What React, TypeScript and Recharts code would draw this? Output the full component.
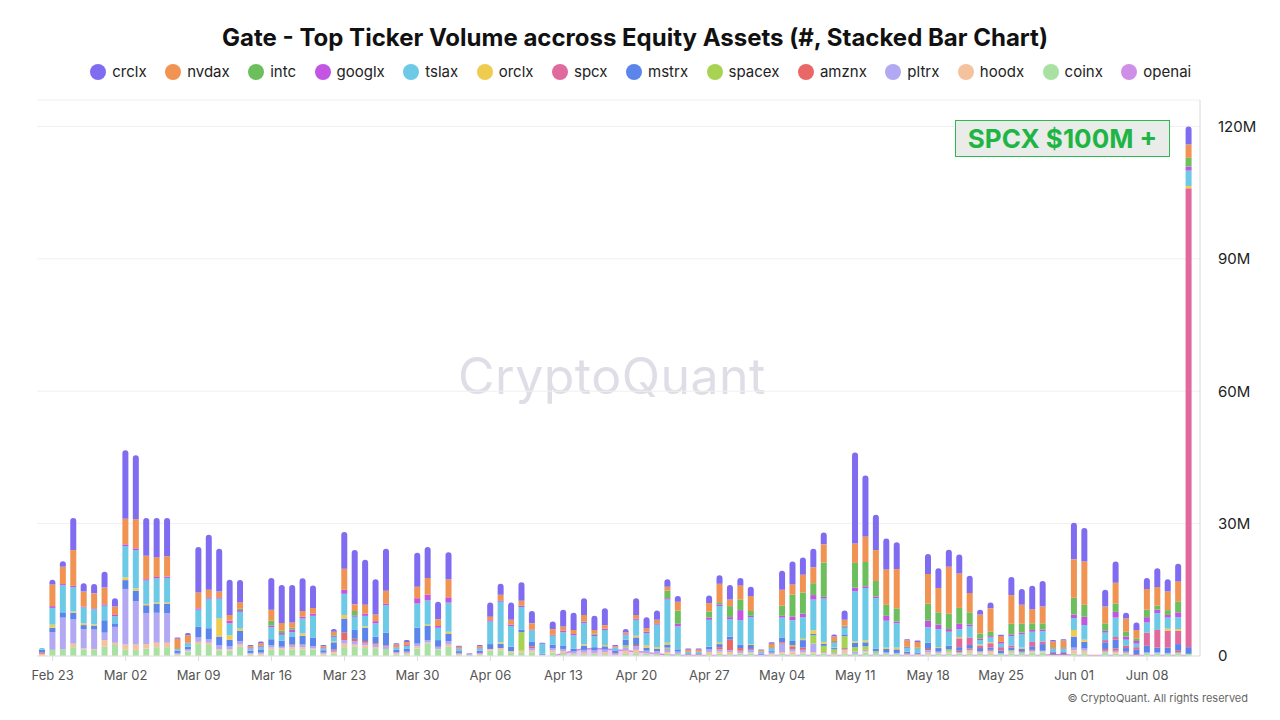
import React from 'react'
import { ComposedChart, Bar, Area, XAxis, YAxis, CartesianGrid } from 'recharts'

// daily categories, Feb 22 .. Jun 12
const MONTHS = ['Jan', 'Feb', 'Mar', 'Apr', 'May', 'Jun', 'Jul', 'Aug', 'Sep', 'Oct', 'Nov', 'Dec']
const days = Array.from({ length: 111 }, (_, i) => {
  const d = new Date(Date.UTC(2025, 1, 22 + i))
  return `${MONTHS[d.getUTCMonth()]} ${String(d.getUTCDate()).padStart(2, '0')}`
})

const tickLabels = ['Feb 23', 'Mar 02', 'Mar 09', 'Mar 16', 'Mar 23', 'Mar 30', 'Apr 06', 'Apr 13', 'Apr 20', 'Apr 27', 'May 04', 'May 11', 'May 18', 'May 25', 'Jun 01', 'Jun 08']
const yTicks = [0, 30, 60, 90, 120]

// volumes in millions
const crclx = [
  0, 1.1, 1.3, 7.3, 1.9, 2.1, 3.6, 1.9, 15.5, 14.5,
  8.6, 8.9, 8.7, 0.3, 0.5, 10.3, 12.5, 9.7, 8.0, 5.0,
  0.3, 0.4, 7.2, 8.6, 8.5, 7.4, 5.1, 0.3, 0.6, 8.3,
  12.3, 10.2, 8.0, 9.5, 0.3, 0.4, 7.7, 7.0, 4.0, 6.1,
  0.2, 0.1, 0.3, 3.2, 2.5, 3.9, 4.2, 2.8, 0.2, 1.7,
  3.8, 3.9, 3.8, 3.2, 3.8, 0.3, 0.8, 3.8, 2.5, 2.1,
  1.7, 1.3, 0.2, 0.2, 1.7, 1.9, 3.3, 1.7, 2.1, 0.2,
  0.3, 4.3, 5.2, 3.9, 4.2, 2.7, 0.5, 2.1, 20.6, 13.8,
  8.0, 7.0, 6.1, 0.3, 0.3, 4.5, 4.5, 3.9, 4.3, 3.9,
  1.1, 1.3, 0.3, 4.1, 3.6, 5.3, 5.8, 0.3, 0.3, 8.3,
  7.6, 0, 3.8, 4.8, 1.3, 1.7, 2.5, 4.3, 2.8, 4.0, 4.1,
]
const nvdax = [
  0, 4.9, 3.9, 8.1, 3.4, 3.4, 3.8, 1.9, 5.8, 6.6,
  5.3, 4.5, 4.6, 2.3, 1.7, 3.6, 1.7, 1.3, 1.3, 1.5,
  0.4, 0.6, 2.5, 1.7, 1.2, 1.3, 1.3, 0.4, 0.8, 4.8,
  1.5, 2.0, 1.5, 2.9, 0.6, 0.7, 2.6, 3.8, 1.5, 4.1,
  0.4, 0.1, 0.4, 0.8, 1.3, 1.1, 1.1, 1.4, 0.1, 1.3,
  1.0, 0.9, 1.5, 0.8, 0.8, 0.3, 0.4, 0.8, 0.8, 0.8,
  0.9, 2.0, 0.5, 0.5, 1.9, 4.2, 1.5, 3.2, 3.4, 0.3,
  0.8, 3.6, 2.3, 4.0, 3.6, 4.1, 1.0, 1.3, 4.4, 5.8,
  7.0, 8.0, 8.9, 1.3, 1.3, 6.7, 5.5, 10.6, 7.8, 4.4,
  4.3, 5.3, 1.3, 6.5, 4.3, 3.2, 3.8, 1.3, 1.5, 8.7,
  9.8, 0.2, 3.8, 4.7, 3.0, 1.9, 4.7, 4.2, 4.2, 4.5, 3.0,
]
const intc = [
  0, 0, 0, 0, 0, 0, 0, 0, 0, 0,
  0, 0, 0, 0, 0, 0, 0, 0, 0, 0.3,
  0, 0, 1.1, 0.6, 0.4, 0, 0, 0, 0.2, 0,
  1.0, 0, 0, 0, 0, 0, 0, 0, 0, 0,
  0, 0, 0, 0, 0, 0, 0, 0, 0, 0,
  0, 0, 0, 0.3, 0, 0, 0, 0, 0, 0,
  1.7, 3.0, 0, 0, 1.4, 0.5, 2.5, 2.4, 1.1, 0.1,
  0.2, 2.3, 5.0, 4.8, 2.7, 7.8, 0.3, 0.3, 5.6, 5.5,
  3.5, 2.5, 3.0, 0.2, 0.2, 3.9, 2.8, 3.5, 3.6, 2.8,
  1.2, 1.0, 0, 2.4, 2.0, 1.5, 1.4, 0.3, 0.3, 3.8,
  2.7, 0, 1.7, 1.9, 1.1, 0.6, 1.7, 0.9, 1.1, 2.5, 2.0,
]
const googlx = [
  0, 0.4, 0.3, 0.3, 0.2, 0.2, 0.3, 0.3, 0.4, 0.4,
  0.3, 0.3, 0.3, 0, 0.1, 0.3, 0.3, 0.3, 0.6, 0.4,
  0.1, 0.2, 0.4, 0.4, 0.6, 0.4, 0.5, 0.1, 0.2, 0.9,
  0.3, 0.5, 0.5, 0.4, 0.1, 0.2, 1.2, 1.3, 0.4, 1.2,
  0.1, 0, 0.1, 0.3, 0.3, 0.3, 0.3, 0.2, 0, 0.2,
  0.3, 0.3, 0.3, 0.3, 0.3, 0.1, 0.2, 0.3, 0.3, 0.3,
  0.3, 0.6, 0.1, 0.1, 0.5, 0.4, 0.5, 2.3, 0.3, 0.1,
  0.1, 0.4, 0.8, 0.8, 1.0, 0.4, 0.2, 0.2, 0.8, 0.4,
  0.4, 1.1, 0.4, 0.2, 0.1, 1.5, 1.0, 0.6, 1.2, 0.4,
  0.3, 0.3, 0.4, 0.4, 0.4, 0.4, 0.4, 0.2, 0.2, 0.8,
  1.9, 0, 0.4, 1.3, 0.7, 0.6, 1.2, 0.8, 0.6, 1.1, 0.9,
]
const tslax = [
  0.4, 3.8, 6.1, 5.5, 3.6, 3.4, 3.3, 1.6, 7.1, 8.7,
  5.3, 5.5, 5.6, 0.4, 0.8, 3.9, 6.7, 4.5, 2.7, 3.8,
  0.5, 0.6, 2.7, 1.3, 1.1, 3.4, 4.9, 0.4, 1.0, 4.8,
  3.0, 2.4, 3.0, 6.2, 0.5, 0.7, 5.5, 5.5, 2.8, 6.6,
  0.5, 0.1, 0.5, 5.1, 9.2, 4.7, 5.1, 2.5, 2.2, 2.0,
  3.0, 3.0, 4.9, 2.5, 3.4, 0.6, 1.0, 3.6, 2.8, 5.1,
  9.8, 5.2, 0.3, 0.3, 6.1, 8.3, 3.9, 5.5, 6.1, 0.3,
  0.6, 4.5, 4.7, 4.9, 7.0, 9.8, 1.0, 1.5, 11.4, 11.9,
  11.4, 6.1, 5.5, 0.8, 0.8, 3.5, 4.1, 3.2, 1.8, 2.5,
  1.0, 1.1, 0.8, 2.1, 3.0, 2.3, 2.3, 0.6, 0.6, 2.7,
  3.3, 0, 1.7, 4.4, 1.4, 0.8, 2.3, 3.8, 2.5, 2.7, 3.5,
]
const orclx = [
  0, 0.7, 0, 0.3, 0.4, 0.3, 0, 0, 0.6, 0.5,
  0.3, 0.3, 0.3, 0, 0, 0, 0, 4.1, 1.0, 0.5,
  0, 0, 0, 0, 0, 0.5, 0, 0, 0.2, 0.8,
  0, 0.3, 0, 0, 0, 0, 0, 0.3, 0, 0.4,
  0, 0, 0, 0, 0.3, 0, 0, 0, 0, 0,
  0, 0, 0.3, 0, 0.3, 0, 0, 0.4, 0.5, 0.4,
  0.4, 0, 0, 0, 0, 0.3, 0, 0, 0.2, 0,
  0, 0, 0, 0.3, 0.8, 0.4, 0.1, 0, 0.3, 0.4,
  0, 0.3, 0.4, 0, 0, 0, 0.2, 0, 0.3, 0,
  0.2, 0.2, 0, 0, 0.2, 0, 0, 0, 0, 1.5,
  0.5, 0, 0, 0, 0, 0, 0, 0, 0.5, 0.4, 0.5,
]
const spcx = [
  0, 0, 0, 0, 0, 0, 0, 0, 0, 0,
  0, 0, 0, 0, 0, 0, 0, 0, 0, 0,
  0, 0, 0, 0, 0, 0, 0, 0, 0, 0,
  0, 0, 0, 0, 0, 0, 0, 0, 0, 0,
  0, 0, 0, 0, 0, 0, 0, 0, 0, 0,
  0, 0, 0, 0, 0, 0, 0, 0, 0, 0,
  0, 0, 0, 0, 0, 0, 0, 0, 0, 0,
  0, 0, 0, 0, 0, 0, 0, 0, 0, 0,
  0, 0, 0, 0, 0, 0, 0, 0, 2.0, 1.7,
  0.6, 1.0, 0.8, 0.5, 0, 1.0, 0.6, 0.2, 0.2, 0,
  0, 0, 0.5, 0.6, 0.5, 0.6, 3.0, 4.0, 3.8, 3.0, 104.0,
]
const mstrx = [
  0.6, 1.0, 1.2, 1.5, 0.9, 0.9, 2.8, 0.8, 2.0, 2.4,
  1.8, 2.0, 2.1, 0.5, 0.6, 2.4, 2.5, 2.0, 1.5, 2.3,
  0.5, 0.7, 1.4, 1.4, 1.7, 2.0, 2.0, 0.5, 1.6, 3.2,
  2.0, 3.0, 1.5, 2.9, 0.5, 0.6, 3.6, 3.2, 1.5, 1.7,
  0.4, 0.1, 0.5, 1.1, 1.0, 1.0, 0.6, 1.1, 0.2, 0.8,
  0.8, 0.6, 0.9, 0.7, 0.7, 0.5, 1.3, 1.7, 0.7, 0.5,
  0.7, 0.5, 0.2, 0.2, 0.6, 0.7, 0.7, 0.8, 0.9, 0.2,
  0.3, 1.1, 0.9, 1.7, 0.3, 0.5, 0.3, 0.4, 1.0, 0.9,
  0.6, 0.8, 0.8, 0.4, 0.3, 1.4, 0.8, 0.8, 0.8, 0.8,
  0.7, 0.5, 0.6, 0.6, 0.6, 0.8, 1.5, 0.3, 0.3, 2.5,
  1.5, 0, 1.5, 2.0, 0.8, 1.0, 1.5, 1.1, 1.2, 1.5, 1.5,
]
const spacex = [
  0, 0, 0, 0, 0, 0, 0, 0, 0, 0,
  0, 0, 0, 0, 0, 0, 0, 0, 0, 0,
  0, 0, 0, 0, 0, 0, 0, 0, 0, 0,
  0, 0, 0, 0, 0, 0, 0, 0, 0, 0,
  0, 0, 0, 0, 0, 0, 4.2, 0, 0, 0,
  0, 0, 0, 0, 0, 0, 0.4, 0, 0, 0,
  0.3, 0, 0, 0, 0, 0, 0, 0, 0, 0,
  0, 0, 0.3, 0, 1.9, 1.4, 0.8, 2.7, 1.0, 0.8,
  0.2, 0, 0, 0, 0, 0, 0, 0.5, 0, 0,
  0, 0, 0, 0.3, 0, 0, 0, 0, 0, 0,
  0, 0, 0, 0, 0, 0, 0, 0, 0, 0, 0,
]
const amznx = [
  0.3, 0, 0, 0, 0, 0, 0, 0, 0, 0,
  0, 0, 0, 0, 0, 0, 0, 0, 0, 0,
  0, 0.1, 0, 0, 0.2, 0, 0, 0.1, 0.3, 1.7,
  0.5, 0.4, 0.3, 0.2, 0.1, 0.2, 0, 0, 0, 0,
  0.1, 0, 0.1, 0, 0, 0, 0, 0.4, 0, 0,
  0, 0, 0, 0, 0, 0.1, 0, 0.3, 0, 0,
  0, 0, 0.1, 0.1, 0, 0.5, 2.4, 0.6, 0.2, 0,
  0.1, 0.3, 0.6, 0.5, 0, 0, 0, 0.2, 0, 0,
  0, 0, 0, 0.2, 0.1, 0.3, 0, 0, 0.3, 0.3,
  0.1, 0.2, 0, 0, 0.2, 0.2, 0, 0.1, 0.1, 0,
  0, 0, 0.4, 0.5, 0.2, 0.2, 0, 0, 0, 0.4, 0,
]
const pltrx = [
  0, 4.0, 7.2, 5.5, 4.4, 4.4, 1.7, 3.6, 12.6, 9.8,
  7.0, 6.8, 6.7, 0.3, 0.3, 1.0, 0.8, 0.8, 0.7, 0.8,
  0.2, 0.2, 0.5, 0.3, 0.4, 0.6, 0.5, 0.2, 0.3, 0.8,
  0.8, 0.6, 0.6, 0.6, 0.2, 0.2, 0.6, 0.5, 0.5, 0.8,
  0.2, 0.1, 0.2, 0, 0, 0, 0, 0.5, 0.1, 0.5,
  0.5, 0.5, 0.6, 0.6, 0.6, 0.3, 0.7, 0.8, 0.5, 0.5,
  0.7, 0.5, 0.1, 0.1, 0.6, 0.5, 0.4, 0.5, 0.6, 0.1,
  0.2, 1.9, 0.6, 0.6, 1.9, 0.2, 0.2, 0.3, 0.5, 0.3,
  0.2, 0.2, 0.2, 0.1, 0.1, 0.5, 0.3, 0.2, 0.2, 0.2,
  0.2, 0.2, 0, 0.2, 0.2, 0.2, 0.2, 0.1, 0.1, 0.6,
  0.5, 0, 0.4, 0.3, 0.2, 0.1, 0.2, 0.2, 0.2, 0.2, 0,
]
const hoodx = [
  0.5, 0, 0, 0.8, 0.2, 0.2, 1.5, 0.5, 1.1, 1.2,
  1.0, 1.0, 1.0, 0.2, 0.2, 0.5, 0.5, 0.3, 0.3, 0.5,
  0.2, 0.2, 0.4, 0.4, 0.5, 0.5, 0.2, 0.2, 0.4, 0.8,
  0.5, 0.6, 0.4, 0, 0.2, 0.2, 0.5, 0.2, 0.1, 0.5,
  0.2, 0.1, 0.2, 0.4, 0.5, 0.4, 0.5, 0.5, 0.1, 0.5,
  0.5, 0.2, 0.4, 0.2, 0.5, 0.2, 0.8, 0.8, 0.2, 0.2,
  0.4, 0, 0.1, 0.1, 0.5, 0.5, 0.5, 0.2, 0.2, 0.1,
  0.2, 0.4, 0.6, 0.3, 0.3, 0.2, 0.2, 0.7, 0, 0.3,
  0, 0, 0, 0.1, 0.1, 0.4, 0.2, 0.2, 0.1, 0.6,
  0.3, 0.5, 0, 0.2, 0, 0.2, 0.2, 0, 0, 0.8,
  0.6, 0, 0, 0.4, 0.1, 0, 0, 0, 0, 0, 0,
]
const coinx = [
  0, 1.4, 1.5, 2.0, 1.5, 1.4, 2.1, 2.5, 1.5, 1.4,
  1.7, 2.0, 2.0, 0.2, 1.0, 2.7, 2.5, 1.3, 1.2, 2.1,
  0.3, 0.3, 1.5, 1.4, 1.5, 1.5, 1.5, 0.3, 0.5, 2.0,
  2.1, 1.8, 1.6, 1.6, 0.4, 0.4, 1.7, 2.9, 1.5, 2.1,
  0.2, 0, 0.2, 1.2, 1.3, 0.7, 0.7, 0.8, 0.1, 0.8,
  0.6, 0.4, 0.4, 0.5, 0.4, 0.1, 0.5, 0.6, 0.5, 0.4,
  0.5, 0.5, 0.1, 0.1, 0.4, 0.5, 0.4, 0.5, 0.6, 0.1,
  0.3, 0.5, 0.4, 0.5, 0.6, 0.5, 0.3, 0.6, 0.5, 0.8,
  0.7, 0.6, 0.5, 0.2, 0.2, 0.4, 0.5, 0.6, 0.6, 0.6,
  0.5, 0.5, 0.6, 0.6, 0.7, 0.8, 0.8, 0.2, 0.2, 0.5,
  0.6, 0, 0.8, 0.5, 0.5, 0.1, 0.6, 0.6, 0.5, 0.6, 0.5,
]
// openai is drawn as a thin area, not part of the bar stack
const openai = [
  null, null, null, null, null, null, null, null, null, null,
  null, null, null, null, null, null, null, null, null, null,
  null, null, null, null, null, null, null, null, null, null,
  null, null, null, null, null, null, null, null, null, null,
  null, null, null, null, null, null, null, null, null, 0,
  0.6, 1.2, 1.6, 1.7, 1.6, 1.4, 1.2, 1.0, 0.8, 0.5,
  0.3, 0.15, 0.1, 0.1, 0.1, 0.1, 0.1, 0.1, 0.1, 0.1,
  0.1, 0.1, 0.1, 0.1, 0.1, 0.1, 0.1, 0.1, 0.1, 0.1,
  0.1, 0.1, 0.1, 0.1, 0.1, 0.1, 0.1, 0.1, 0.1, 0.1,
  0.1, 0.1, 0.1, 0.1, 0.1, 0.1, 0.1, 0.3, 0.3, 0.1,
  0.1, 0.1, 0.1, 0.1, 0.1, 0.1, 0.1, 0.1, 0.1, 0.1, 0.1,
]

const series = [
  { key: 'crclx', values: crclx, color: '#7f6cf0' },
  { key: 'nvdax', values: nvdax, color: '#f19352' },
  { key: 'intc', values: intc, color: '#6dbf5e' },
  { key: 'googlx', values: googlx, color: '#c255e2' },
  { key: 'tslax', values: tslax, color: '#6ccae6' },
  { key: 'orclx', values: orclx, color: '#efcc50' },
  { key: 'spcx', values: spcx, color: '#e06a9e' },
  { key: 'mstrx', values: mstrx, color: '#5b85ea' },
  { key: 'spacex', values: spacex, color: '#a8d352' },
  { key: 'amznx', values: amznx, color: '#e86868' },
  { key: 'pltrx', values: pltrx, color: '#b3a9f3' },
  { key: 'hoodx', values: hoodx, color: '#f5c29e' },
  { key: 'coinx', values: coinx, color: '#a9e1a2' },
]
const openaiColor = '#d08fe6'

const data = days.map((day, i) => {
  const row: any = { day, openai: openai[i] }
  series.forEach(s => { row[s.key] = s.values[i] })
  // topmost non-empty segment gets the rounded cap
  row.top = series.find(s => s.values[i] > 0)?.key
  return row
})

const stackOrder = [...series].reverse()

const segShape = (key: string) => (props: any) => {
  const { x, y, width, height, fill, payload } = props
  if (!height || height <= 0) return null
  if (payload?.top !== key) return <rect x={x} y={y} width={width} height={height} fill={fill} />
  const r = Math.min(3, width / 2, height)
  const d = `M${x},${y + height} L${x},${y + r} A${r},${r} 0 0 1 ${x + r},${y} L${x + width - r},${y} A${r},${r} 0 0 1 ${x + width},${y + r} L${x + width},${y + height} Z`
  return <path d={d} fill={fill} />
}

const legendItems = [...series.map(s => ({ key: s.key, color: s.color })), { key: 'openai', color: openaiColor }]

export default function App() {
  const font = 'Inter, "Noto Sans", sans-serif'
  return (
    <div style={{ position: 'absolute', left: 0, top: 0, width: 1280, height: 720, background: '#fff', fontFamily: font, overflow: 'hidden' }}>
      <div style={{ position: 'absolute', top: 23, left: 0, width: 1270, textAlign: 'center', fontSize: 24, fontWeight: 700, color: '#111' }}>
        Gate - Top Ticker Volume accross Equity Assets (#, Stacked Bar Chart)
      </div>
      <div style={{ position: 'absolute', top: 62, left: 0, width: 1300, display: 'flex', justifyContent: 'center', fontSize: 15, color: '#222' }}>
        {legendItems.map(it => (
          <div key={it.key} style={{ display: 'flex', alignItems: 'center', marginRight: 18.5 }}>
            <span style={{ width: 16, height: 16, borderRadius: 8, background: it.color, marginRight: 6, display: 'inline-block' }} />
            <span>{it.key}</span>
          </div>
        ))}
      </div>
      <div style={{ position: 'absolute', top: 346, left: 458, fontSize: 50, color: '#dedee6', letterSpacing: 0.5 }}>CryptoQuant</div>
      <div style={{ position: 'absolute', top: 0, left: 0 }}>
        <ComposedChart width={1280} height={720} data={data} margin={{ top: 100, right: 20, bottom: 34, left: 37 }} barSize={6}>
          <CartesianGrid vertical={false} stroke="#f0f0f0" />
          <XAxis
            dataKey="day"
            ticks={tickLabels}
            interval={0}
            height={30}
            padding={{ left: 0, right: 6 }}
            tickSize={5}
            tickMargin={10}
            axisLine={{ stroke: '#e4e4e4' }}
            tickLine={{ stroke: '#dcdcdc' }}
            tick={{ fontSize: 13, fill: '#555' }}
          />
          <YAxis
            orientation="right"
            width={60}
            domain={[0, 126]}
            ticks={yTicks}
            tickLine={false}
            tickMargin={12}
            axisLine={{ stroke: '#d8d8d8' }}
            tick={{ fontSize: 15, fill: '#222', textAnchor: 'start' }}
            tickFormatter={(v: number) => (v === 0 ? '0' : `${v}M`)}
          />
          {stackOrder.map(s => (
            <Bar key={s.key} dataKey={s.key} stackId="a" fill={s.color} isAnimationActive={false} shape={segShape(s.key)} />
          ))}
          <Area dataKey="openai" type="monotone" stroke={openaiColor} strokeWidth={1.5} fill={openaiColor} fillOpacity={0.4} isAnimationActive={false} dot={false} activeDot={false} />
        </ComposedChart>
      </div>
      <div style={{ position: 'absolute', top: 120, left: 955, width: 213, height: 35, background: '#e9ece9', border: '1px solid #2fb84f', color: '#1fb545', fontSize: 26, fontWeight: 700, display: 'flex', alignItems: 'center', justifyContent: 'center' }}>
        SPCX $100M +
      </div>
      <div style={{ position: 'absolute', top: 691, right: 32, fontSize: 11, color: '#666' }}>© CryptoQuant. All rights reserved</div>
    </div>
  )
}
